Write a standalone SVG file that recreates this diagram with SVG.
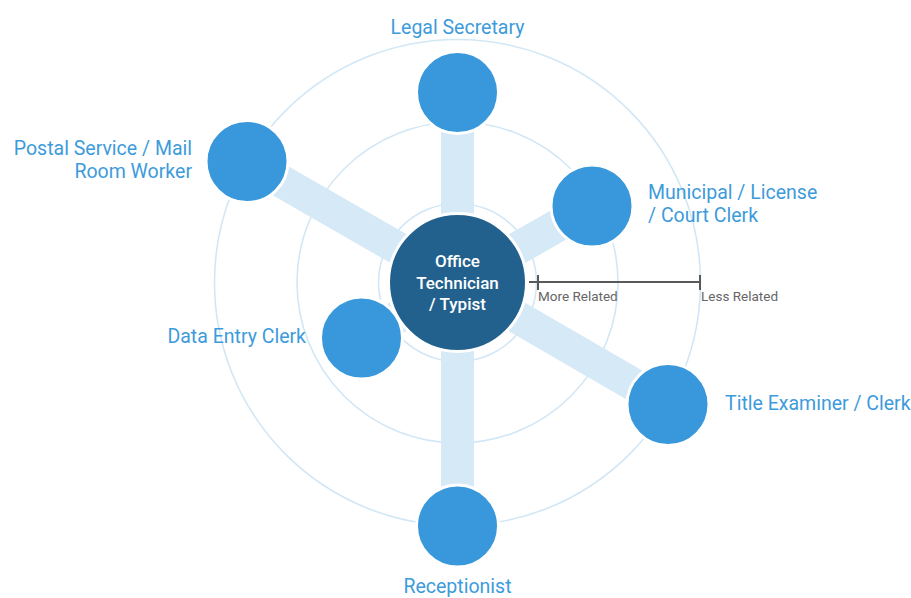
<svg xmlns="http://www.w3.org/2000/svg" width="911" height="598" viewBox="0 0 911 598">
<style>
.ring{fill:none;stroke:#d2e7f6;stroke-width:1.6}
.spoke{stroke:#d6e9f7;stroke-width:33;stroke-linecap:butt}
.node{fill:#3898db;stroke:#ffffff;stroke-width:3}
.center{fill:#22618d;stroke:#ffffff;stroke-width:3}
.lbl{font-family:Roboto,"Liberation Sans",sans-serif;font-size:19.5px;fill:#3d9bdb}
.ctext{font-family:Roboto,"Liberation Sans",sans-serif;font-size:17px;font-weight:500;fill:#ffffff;text-anchor:middle}
.scale{stroke:#595959;stroke-width:2;fill:none}
.stext{font-family:Roboto,"Liberation Sans",sans-serif;font-size:13.5px;fill:#666666}
</style>
<rect width="911" height="598" fill="#ffffff"/>
<g id="rings">
<circle class="ring" cx="457.5" cy="282.5" r="79"/>
<circle class="ring" cx="457.5" cy="282.5" r="160.5"/>
<circle class="ring" cx="457.5" cy="282.5" r="243"/>
</g>
<g id="connectors">
<line class="spoke" x1="457.5" y1="282.5" x2="457.5" y2="92.5"/>
<line class="spoke" x1="457.5" y1="282.5" x2="592" y2="206"/>
<line class="spoke" x1="457.5" y1="282.5" x2="668" y2="404.5"/>
<line class="spoke" x1="457.5" y1="282.5" x2="457.5" y2="526"/>
<line class="spoke" x1="457.5" y1="282.5" x2="361.5" y2="338"/>
<line class="spoke" x1="457.5" y1="282.5" x2="247" y2="161.5"/>
</g>
<g id="node-legal-secretary">
<circle class="node" cx="457.5" cy="92.5" r="41"/>
<text class="lbl" x="457.5" y="34" text-anchor="middle">Legal Secretary</text>
</g>
<g id="node-municipal-clerk">
<circle class="node" cx="592" cy="206" r="41"/>
<text class="lbl" x="648" y="199">Municipal / License</text>
<text class="lbl" x="648" y="222">/ Court Clerk</text>
</g>
<g id="node-title-examiner">
<circle class="node" cx="668" cy="404.5" r="41"/>
<text class="lbl" x="725" y="410">Title Examiner / Clerk</text>
</g>
<g id="node-receptionist">
<circle class="node" cx="457.5" cy="526" r="41"/>
<text class="lbl" x="457.5" y="593" text-anchor="middle">Receptionist</text>
</g>
<g id="node-data-entry-clerk">
<circle class="node" cx="361.5" cy="338" r="41"/>
<text class="lbl" x="306" y="343" text-anchor="end">Data Entry Clerk</text>
</g>
<g id="node-postal-service">
<circle class="node" cx="247" cy="161.5" r="41"/>
<text class="lbl" x="192" y="155" text-anchor="end">Postal Service / Mail</text>
<text class="lbl" x="192" y="178" text-anchor="end">Room Worker</text>
</g>
<g id="node-center">
<circle class="center" cx="457.5" cy="282.5" r="69"/>
<text class="ctext" x="457.5" y="267">Office</text>
<text class="ctext" x="457.5" y="289">Technician</text>
<text class="ctext" x="457.5" y="310">/ Typist</text>
</g>
<g id="scale">
<line class="scale" x1="529" y1="282" x2="701" y2="282"/>
<line class="scale" x1="538" y1="275" x2="538" y2="290"/>
<line class="scale" x1="700" y1="275" x2="700" y2="290"/>
<text class="stext" x="538" y="300.5">More Related</text>
<text class="stext" x="701" y="300.5">Less Related</text>
</g>
</svg>
